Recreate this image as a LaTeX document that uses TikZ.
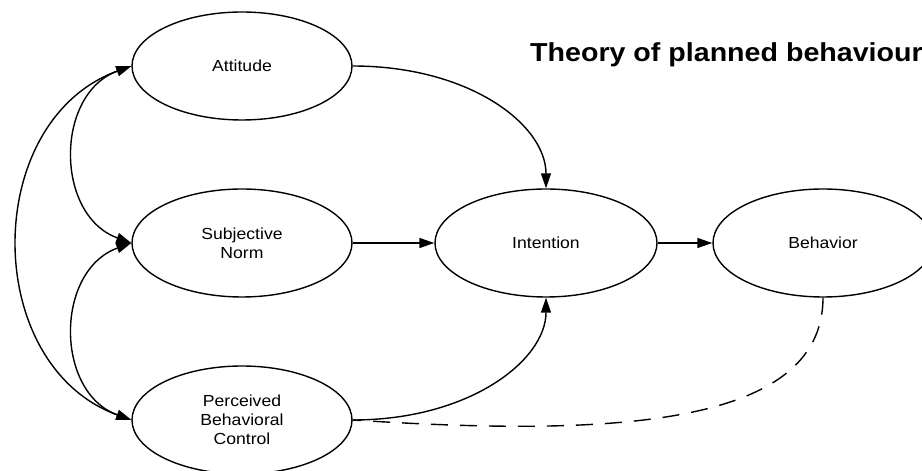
\documentclass[tikz,border=0pt]{standalone}
\usepackage{fontspec}
\setmainfont{Liberation Sans}[FakeStretch=1.1]
\usetikzlibrary{shapes.geometric,arrows.meta}

\begin{document}
\begin{tikzpicture}[x=1pt,y=1pt,
    oval/.style={draw,ellipse,line width=1.4pt,minimum width=220pt,minimum height=108pt,
      inner sep=0pt,align=center,font=\fontsize{16}{19}\selectfont},
    link/.style={line width=1.4pt,-{Triangle[length=15pt,width=10pt]}},
    corr/.style={line width=1.4pt,{Triangle[length=15pt,width=10pt]}-{Triangle[length=15pt,width=10pt]}},
    weak/.style={line width=1.4pt,dash pattern=on 17pt off 12pt}]
  \useasboundingbox (0,0) rectangle (922,471);
  \node[oval] (att) at (242,405) {Attitude};
  \node[oval] (norm) at (242,228) {Subjective\\Norm};
  \node[oval] (pbc) at (242,51) {Perceived\\Behavioral\\Control};
  \node[oval,minimum width=222pt] (int) at (546,228) {Intention};
  \node[oval] (beh) at (823,228) {Behavior};
  \node[anchor=base west,inner sep=0pt,font=\bfseries\fontsize{26}{30}\selectfont]
    (title) at (530,409) {Theory of planned behaviour};
  % correlations between the three predictors
  \draw[corr] (att.west) to[out=200,in=160,looseness=1.18] (norm.west);
  \draw[corr] (norm.west) to[out=200,in=160,looseness=1.18] (pbc.west);
  \draw[corr] (att.west) to[out=200,in=160,looseness=1.16] (pbc.west);
  % paths into intention and behavior
  \draw[link] (att.east) .. controls (470,405) and (546,346) .. (int.north);
  \draw[link] (norm) -- (int);
  \draw[link] (pbc.east) .. controls (470,51) and (546,111) .. (int.south);
  \draw[link] (int) -- (beh);
  \draw[weak] (beh.south) .. controls (823,41) and (600,35) .. (pbc.east);
\end{tikzpicture}
\end{document}
